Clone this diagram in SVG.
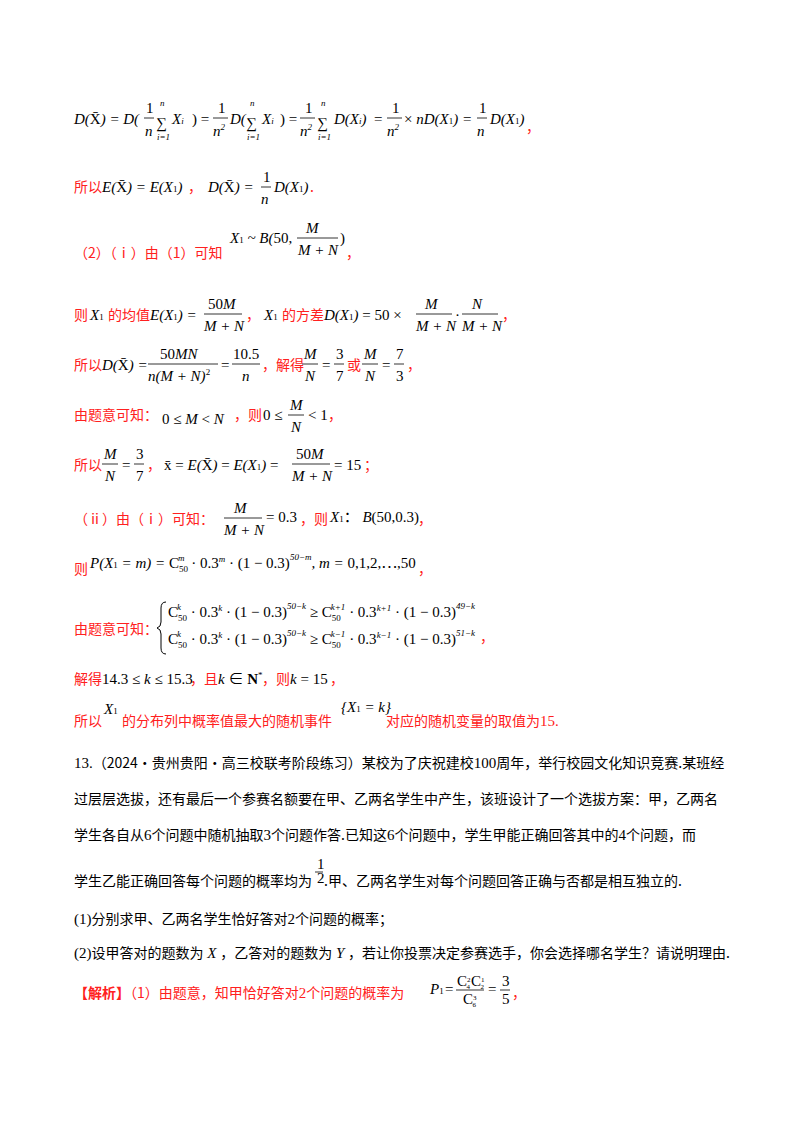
<svg xmlns="http://www.w3.org/2000/svg" width="800" height="1132" viewBox="0 0 800 1132">
<style>
text{font-family:"Liberation Serif","Noto Sans CJK SC",serif;font-size:15px;fill:#000}
.m{font-style:italic}
.r{fill:#ff2020;font-family:"Noto Sans CJK SC","Liberation Serif",sans-serif;font-size:14px}
.c{font-family:"Noto Sans CJK SC","Liberation Serif",sans-serif;font-size:14px}
.s{font-size:9px}
.f{stroke:#000;stroke-width:0.8}
.b{fill:none;stroke:#000;stroke-width:1}
</style>
<rect width="800" height="1132" fill="#fff"/>
<!-- line 1 -->
<text x="74" y="124" class="m">D(<tspan font-style="normal">X̄</tspan>) = D(</text>
<text x="146" y="113">1</text><line class="f" x1="144" y1="118" x2="154" y2="118"/><text x="145" y="136" class="m">n</text>
<text x="156" y="128" font-size="19">∑</text><text x="160" y="106" class="s m">n</text><text x="157" y="140" class="s m">i=1</text>
<text x="172" y="124" class="m">X<tspan class="s">i</tspan></text>
<text x="192" y="124">) =</text>
<text x="218" y="113">1</text><line class="f" x1="213" y1="118" x2="228" y2="118"/><text x="213" y="136" class="m">n<tspan class="s" dy="-6">2</tspan></text>
<text x="230" y="124" class="m">D(</text>
<text x="246" y="128" font-size="19">∑</text><text x="250" y="106" class="s m">n</text><text x="247" y="140" class="s m">i=1</text>
<text x="262" y="124" class="m">X<tspan class="s">i</tspan></text>
<text x="280" y="124">) =</text>
<text x="305" y="113">1</text><line class="f" x1="300" y1="118" x2="315" y2="118"/><text x="300" y="136" class="m">n<tspan class="s" dy="-6">2</tspan></text>
<text x="317" y="128" font-size="19">∑</text><text x="321" y="106" class="s m">n</text><text x="318" y="140" class="s m">i=1</text>
<text x="334" y="124" class="m">D(X<tspan class="s">i</tspan>)</text>
<text x="374" y="124">=</text>
<text x="392" y="113">1</text><line class="f" x1="387" y1="118" x2="402" y2="118"/><text x="387" y="136" class="m">n<tspan class="s" dy="-6">2</tspan></text>
<text x="404" y="124" class="m"><tspan font-style="normal">×</tspan> nD(X<tspan class="s" font-style="normal">1</tspan>)</text>
<text x="463" y="124">=</text>
<text x="479" y="113">1</text><line class="f" x1="477" y1="118" x2="487" y2="118"/><text x="477" y="136" class="m">n</text>
<text x="490" y="124" class="m">D(X<tspan class="s" font-style="normal">1</tspan>)</text>
<text x="526" y="132" class="r">，</text>
<!-- line 2 -->
<text x="74" y="192" class="r">所以</text>
<text x="102" y="192" class="m">E(<tspan font-style="normal">X̄</tspan>) = E(X<tspan class="s" font-style="normal">1</tspan>)</text>
<text x="188" y="192" class="r">，</text>
<text x="208" y="192" class="m">D(<tspan font-style="normal">X̄</tspan>) = </text>
<text x="263" y="182">1</text><line class="f" x1="261" y1="187" x2="271" y2="187"/><text x="261" y="204" class="m">n</text>
<text x="274" y="192" class="m">D(X<tspan class="s" font-style="normal">1</tspan>)</text>
<text x="310" y="192" class="r">.</text>
<!-- line 3 -->
<text x="74" y="258" class="r">（2）（ⅰ）由（1）可知</text>
<text x="230" y="243" class="m">X<tspan class="s" font-style="normal">1</tspan> ~ B(<tspan font-style="normal">50,</tspan></text>
<text x="306" y="233" class="m">M</text><line class="f" x1="297" y1="238" x2="338" y2="238"/><text x="298" y="255" class="m">M + N</text>
<text x="340" y="243">)</text>
<text x="346" y="258" class="r">，</text>
<!-- line 4 -->
<text x="74" y="320" class="r">则</text>
<text x="90" y="320" class="m">X<tspan class="s" font-style="normal">1</tspan></text>
<text x="108" y="320" class="r">的均值</text>
<text x="150" y="320" class="m">E(X<tspan class="s" font-style="normal">1</tspan>) =</text>
<text x="208" y="309">50<tspan class="m">M</tspan></text><line class="f" x1="204" y1="314" x2="242" y2="314"/><text x="204" y="331" class="m">M + N</text>
<text x="246" y="320" class="r">，</text>
<text x="264" y="320" class="m">X<tspan class="s" font-style="normal">1</tspan></text>
<text x="282" y="320" class="r">的方差</text>
<text x="324" y="320" class="m">D(X<tspan class="s" font-style="normal">1</tspan>) <tspan font-style="normal">= 50 ×</tspan></text>
<text x="425" y="309" class="m">M</text><line class="f" x1="416" y1="314" x2="452" y2="314"/><text x="416" y="331" class="m">M + N</text>
<text x="455" y="320">·</text>
<text x="472" y="309" class="m">N</text><line class="f" x1="462" y1="314" x2="498" y2="314"/><text x="462" y="331" class="m">M + N</text>
<text x="502" y="320" class="r">，</text>
<!-- line 5 -->
<text x="74" y="370" class="r">所以</text>
<text x="102" y="370" class="m">D(<tspan font-style="normal">X̄</tspan>) = </text>
<text x="160" y="359">50<tspan class="m">MN</tspan></text><line class="f" x1="148" y1="364" x2="218" y2="364"/><text x="148" y="381" class="m">n(M + N)<tspan class="s" font-style="normal" dy="-6">2</tspan></text>
<text x="221" y="370">=</text>
<text x="233" y="359">10.5</text><line class="f" x1="232" y1="364" x2="260" y2="364"/><text x="242" y="381" class="m">n</text>
<text x="262" y="370" class="r">，解得</text>
<text x="304" y="359" class="m">M</text><line class="f" x1="302" y1="364" x2="318" y2="364"/><text x="305" y="381" class="m">N</text>
<text x="322" y="370">=</text>
<text x="336" y="359">3</text><line class="f" x1="334" y1="364" x2="344" y2="364"/><text x="336" y="381">7</text>
<text x="347" y="370" class="r">或</text>
<text x="364" y="359" class="m">M</text><line class="f" x1="362" y1="364" x2="378" y2="364"/><text x="365" y="381" class="m">N</text>
<text x="382" y="370">=</text>
<text x="396" y="359">7</text><line class="f" x1="394" y1="364" x2="404" y2="364"/><text x="396" y="381">3</text>
<text x="407" y="370" class="r">，</text>
<!-- line 6 -->
<text x="74" y="420" class="r">由题意可知：</text>
<text x="162" y="424">0 ≤ <tspan class="m">M</tspan> &lt; <tspan class="m">N</tspan></text>
<text x="234" y="420" class="r">，则</text>
<text x="263" y="420">0 ≤</text>
<text x="290" y="410" class="m">M</text><line class="f" x1="288" y1="415" x2="304" y2="415"/><text x="291" y="432" class="m">N</text>
<text x="308" y="420">&lt; 1</text>
<text x="328" y="420" class="r">，</text>
<!-- line 7 -->
<text x="74" y="470" class="r">所以</text>
<text x="104" y="459" class="m">M</text><line class="f" x1="102" y1="464" x2="118" y2="464"/><text x="105" y="481" class="m">N</text>
<text x="122" y="470">=</text>
<text x="136" y="459">3</text><line class="f" x1="134" y1="464" x2="144" y2="464"/><text x="136" y="481">7</text>
<text x="147" y="470" class="r">，</text>
<text x="164" y="470" class="m"><tspan font-style="normal">x̄ = </tspan>E(<tspan font-style="normal">X̄</tspan>) <tspan font-style="normal">=</tspan> E(X<tspan class="s" font-style="normal">1</tspan>) <tspan font-style="normal">=</tspan></text>
<text x="296" y="459">50<tspan class="m">M</tspan></text><line class="f" x1="292" y1="464" x2="330" y2="464"/><text x="292" y="481" class="m">M + N</text>
<text x="334" y="470">= 15</text>
<text x="364" y="470" class="r">；</text>
<!-- line 8 -->
<text x="74" y="524" class="r">（ⅱ）由（ⅰ）可知：</text>
<text x="234" y="513" class="m">M</text><line class="f" x1="224" y1="518" x2="262" y2="518"/><text x="224" y="535" class="m">M + N</text>
<text x="266" y="522">= 0.3</text>
<text x="300" y="524" class="r">，则</text>
<text x="330" y="522" class="m">X<tspan class="s" font-style="normal">1</tspan><tspan font-style="normal">： </tspan>B<tspan font-style="normal">(50,0.3)</tspan></text>
<text x="418" y="524" class="r">，</text>
<!-- line 9 -->
<text x="74" y="574" class="r">则</text>
<text x="90" y="568" class="m">P(X<tspan class="s" font-style="normal">1</tspan> = m) = <tspan font-style="normal">C</tspan><tspan class="s" font-style="normal" dy="4">50</tspan><tspan class="s" dx="-10" dy="-11">m</tspan><tspan dx="3" dy="7" font-style="normal"> · 0.3</tspan><tspan class="s" dy="-6">m</tspan><tspan dy="6" font-style="normal"> · (1 − 0.3)</tspan><tspan class="s" dy="-8">50−m</tspan><tspan dy="8">, m = </tspan><tspan font-style="normal">0,1,2,⋯,50</tspan></text>
<text x="418" y="574" class="r">，</text>
<!-- line 10 -->
<text x="74" y="634" class="r">由题意可知：</text>
<path class="b" d="M166 602 Q161 602 161 608 L161 622 Q161 627 157 628 Q161 629 161 634 L161 648 Q161 654 166 654"/>
<text x="168" y="617">C<tspan class="s" dy="4">50</tspan><tspan class="s m" dx="-10" dy="-11">k</tspan><tspan dx="6" dy="7"> · 0.3</tspan><tspan class="s m" dy="-6">k</tspan><tspan dy="6"> · (1 − 0.3)</tspan><tspan class="s m" dy="-8">50−k</tspan><tspan dy="8"> ≥ C</tspan><tspan class="s" dy="4">50</tspan><tspan class="s m" dx="-10" dy="-11">k+1</tspan><tspan dy="7"> · 0.3</tspan><tspan class="s m" dy="-6">k+1</tspan><tspan dy="6"> · (1 − 0.3)</tspan><tspan class="s m" dy="-8">49−k</tspan></text>
<text x="168" y="644">C<tspan class="s" dy="4">50</tspan><tspan class="s m" dx="-10" dy="-11">k</tspan><tspan dx="6" dy="7"> · 0.3</tspan><tspan class="s m" dy="-6">k</tspan><tspan dy="6"> · (1 − 0.3)</tspan><tspan class="s m" dy="-8">50−k</tspan><tspan dy="8"> ≥ C</tspan><tspan class="s" dy="4">50</tspan><tspan class="s m" dx="-10" dy="-11">k−1</tspan><tspan dy="7"> · 0.3</tspan><tspan class="s m" dy="-6">k−1</tspan><tspan dy="6"> · (1 − 0.3)</tspan><tspan class="s m" dy="-8">51−k</tspan></text>
<text x="480" y="642" class="r">，</text>
<!-- line 11 -->
<text x="74" y="684" class="r">解得</text>
<text x="102" y="684">14.3 ≤ <tspan class="m">k</tspan> ≤ 15.3</text>
<text x="190" y="684" class="r">，且</text>
<text x="218" y="684" class="m">k <tspan font-style="normal">∈ </tspan><tspan font-style="normal" font-weight="bold">N</tspan><tspan class="s" font-style="normal" dy="-6">*</tspan></text>
<text x="262" y="684" class="r">，则</text>
<text x="290" y="684" class="m">k <tspan font-style="normal">= 15</tspan></text>
<text x="330" y="684" class="r">，</text>
<!-- line 12 -->
<text x="74" y="726" class="r">所以</text>
<text x="104" y="714" class="m" font-size="16">X<tspan class="s" font-style="normal">1</tspan></text>
<text x="122" y="726" class="r">的分布列中概率值最大的随机事件</text>
<text x="341" y="712" class="m">{X<tspan class="s" font-style="normal">1</tspan> = k}</text>
<text x="386" y="726" class="r">对应的随机变量的取值为<tspan font-family="Liberation Serif" font-size="15">15.</tspan></text>
<!-- problem 13 -->
<text x="74" y="768" class="c"><tspan font-family="Liberation Serif" font-size="15">13.</tspan>（2024·贵州贵阳·高三校联考阶段练习）某校为了庆祝建校<tspan font-family="Liberation Serif" font-size="15">100</tspan>周年，举行校园文化知识竞赛.某班经</text>
<text x="74" y="804" class="c">过层层选拔，还有最后一个参赛名额要在甲、乙两名学生中产生，该班设计了一个选拔方案：甲，乙两名</text>
<text x="74" y="840" class="c">学生各自从<tspan font-family="Liberation Serif" font-size="15">6</tspan>个问题中随机抽取<tspan font-family="Liberation Serif" font-size="15">3</tspan>个问题作答.已知这<tspan font-family="Liberation Serif" font-size="15">6</tspan>个问题中，学生甲能正确回答其中的<tspan font-family="Liberation Serif" font-size="15">4</tspan>个问题，而</text>
<text x="74" y="886" class="c">学生乙能正确回答每个问题的概率均为</text>
<text x="317" y="869" font-size="10">1</text><line class="f" x1="315" y1="872" x2="323" y2="872"/><text x="317" y="883" font-size="10">2</text>
<text x="324" y="886" class="c">.甲、乙两名学生对每个问题回答正确与否都是相互独立的.</text>
<text x="74" y="924" class="c"><tspan font-family="Liberation Serif" font-size="15">(1)</tspan>分别求甲、乙两名学生恰好答对<tspan font-family="Liberation Serif" font-size="15">2</tspan>个问题的概率；</text>
<text x="74" y="958" class="c"><tspan font-family="Liberation Serif" font-size="15">(2)</tspan>设甲答对的题数为<tspan font-family="Liberation Serif" font-style="italic" font-size="15"> X </tspan>，乙答对的题数为<tspan font-family="Liberation Serif" font-style="italic" font-size="15"> Y </tspan>，若让你投票决定参赛选手，你会选择哪名学生？请说明理由.</text>
<text x="74" y="998" class="r"><tspan font-weight="bold">【解析】</tspan>（1）由题意，知甲恰好答对<tspan font-family="Liberation Serif" font-size="15">2</tspan>个问题的概率为</text>
<text x="430" y="994" class="m" font-size="13">P<tspan class="s" font-style="normal">1</tspan></text>
<text x="445" y="994" font-size="13">=</text>
<text x="457" y="986" font-size="11">C<tspan font-size="7" dy="-4">2</tspan><tspan font-size="7" dx="-4" dy="7">4</tspan><tspan dx="1" dy="-3">C</tspan><tspan font-size="7" dy="-4">1</tspan><tspan font-size="7" dx="-4" dy="7">2</tspan></text>
<line class="f" x1="456" y1="990" x2="484" y2="990"/>
<text x="463" y="1004" font-size="11">C<tspan font-size="7" dy="-4">3</tspan><tspan font-size="7" dx="-4" dy="7">6</tspan></text>
<text x="488" y="994" font-size="13">=</text>
<text x="502" y="986" font-size="13">3</text><line class="f" x1="500" y1="990" x2="510" y2="990"/><text x="502" y="1004" font-size="13">5</text>
<text x="512" y="998" class="r">，</text>
</svg>
